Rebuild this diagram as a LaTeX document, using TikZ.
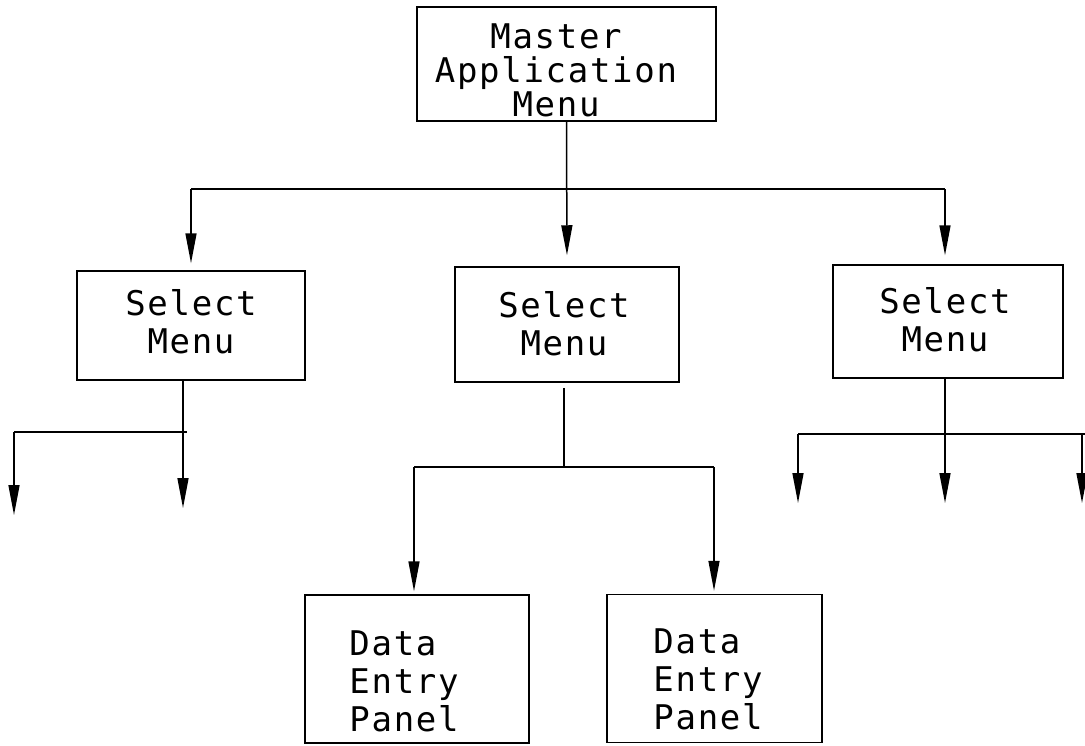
\documentclass[tikz,border=0pt]{standalone}
\usepackage{fontspec}
\newfontfamily\plotfont[LetterSpace=5]{DejaVu Sans Mono}
\usetikzlibrary{arrows.meta}
\begin{document}
\begin{tikzpicture}[x=1pt,y=-1pt,
  line width=1.5pt,
  boxnode/.style={draw, rectangle, inner sep=0pt},
  txt/.style={font=\plotfont\fontsize{34}{38}\selectfont, align=center, inner sep=0pt},
  txtl/.style={font=\plotfont\fontsize{34}{38}\selectfont, align=left, inner sep=0pt},
  arr/.style={-{Triangle[length=30pt,width=11pt]}}]
\useasboundingbox (0,0) rectangle (1085,745);
\fill[white] (0,0) rectangle (1085,745);
% boxes
\node[boxnode, minimum width=299pt, minimum height=114pt] (master) at (566.5,64) {};
\node[boxnode, minimum width=228pt, minimum height=109pt] (sel1) at (191,325.5) {};
\node[boxnode, minimum width=224pt, minimum height=115pt] (sel2) at (567,324.5) {};
\node[boxnode, minimum width=230pt, minimum height=113pt] (sel3) at (948,321.5) {};
\node[boxnode, minimum width=224pt, minimum height=148pt] (de1) at (417,669) {};
\node[boxnode, minimum width=215pt, minimum height=148pt] (de2) at (714.5,668.5) {};
% texts
\node[txt, font=\plotfont\fontsize{34}{34}\selectfont] (mastert) at (556,70) {Master\\Application\\Menu};
\node[txt] (sel1t) at (191,322) {Select\\Menu};
\node[txt] (sel2t) at (564,324) {Select\\Menu};
\node[txt] (sel3t) at (945,320) {Select\\Menu};
\node[txtl] (de1t) at (404,681) {Data\\Entry\\Panel};
\node[txtl] (de2t) at (708,679) {Data\\Entry\\Panel};
% junction coordinates
\coordinate (h0l) at (191,189);
\coordinate (h0r) at (945,189);
\coordinate (j1) at (183,432);
\coordinate (j1a) at (14,432);
\coordinate (j1e) at (187,432);
\coordinate (t1a) at (14,515);
\coordinate (t1b) at (183,508);
\coordinate (j2) at (564,467);
\coordinate (j2l) at (414,467);
\coordinate (j2r) at (714,467);
\coordinate (j3) at (945,434);
\coordinate (j3l) at (798,434);
\coordinate (j3r) at (1085,434);
\coordinate (j3x) at (1082,434);
\coordinate (t3a) at (798,503);
\coordinate (t3b) at (945,503);
\coordinate (t3c) at (1082,503);
% level 1
\draw[arr, shorten >=11pt] (master.south) -- (sel2.north);
\draw (h0l) -- (h0r);
\draw[arr, shorten >=7pt] (h0l) -- (sel1.north);
\draw[arr, shorten >=9pt] (h0r) -- (h0r |- sel3.north);
% left select
\draw[arr] (sel1.south -| j1) -- (t1b);
\draw (j1a) -- (j1e);
\draw[arr] (j1a) -- (t1a);
% middle select
\draw ([yshift=-5pt]sel2.south -| j2) -- (j2);
\draw (j2l) -- (j2r);
\draw[arr, shorten >=3pt] (j2l) -- (j2l |- de1.north);
\draw[arr, shorten >=3pt] (j2r) -- (j2r |- de2.north);
% right select
\draw[arr] (sel3.south -| j3) -- (t3b);
\draw (j3l) -- (j3r);
\draw[arr] (j3l) -- (t3a);
\draw[arr] (j3x) -- (t3c);
\end{tikzpicture}
\end{document}
